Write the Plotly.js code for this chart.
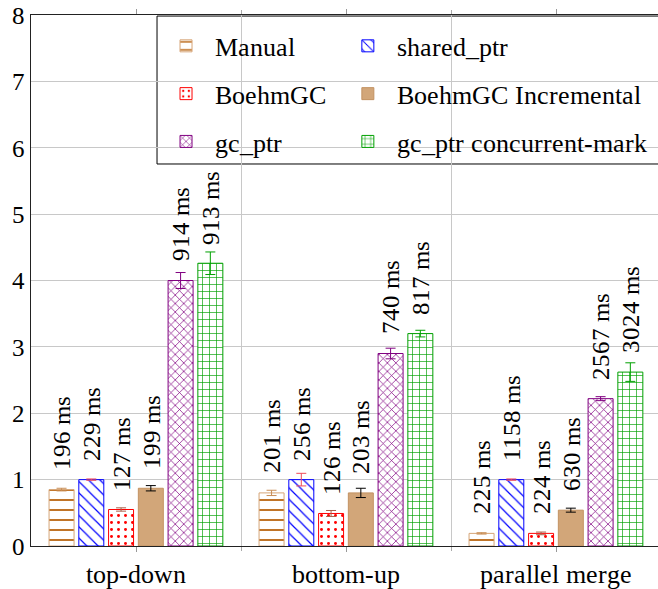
<!DOCTYPE html>
<html>
<head>
<meta charset="utf-8">
<script src="https://cdn.plot.ly/plotly-3.0.1.min.js"></script>
<style>
@font-face { font-family: 'SerifX'; src: local('Liberation Serif'), local('LiberationSerif'), local('LiberationSerif-Regular'), local('DejaVu Serif'), local('DejaVuSerif'); }
html,body{margin:0;padding:0;background:#fff;}#chart{width:658px;height:589px;}
</style>
</head>
<body>
<div id="chart"></div>
<script>
// ---- data ----
const categories = ['top-down', 'bottom-up', 'parallel merge'];
const seriesNames = ['Manual', 'shared_ptr', 'BoehmGC', 'BoehmGC Incremental', 'gc_ptr', 'gc_ptr concurrent-mark'];

const manual      = [0.85, 0.80, 0.19];
const manualErr   = [0.02, 0.04, 0.01];
const manualMs    = [196, 201, 225];

const sharedPtr    = [1.00, 1.00, 1.00];
const sharedPtrErr = [0.01, 0.095, 0.01];
const sharedPtrMs  = [229, 256, 1158];

const boehm      = [0.55, 0.49, 0.19];
const boehmErr   = [0.025, 0.045, 0.02];
const boehmMs    = [127, 126, 224];

const boehmInc    = [0.87, 0.80, 0.54];
const boehmIncErr = [0.04, 0.07, 0.03];
const boehmIncMs  = [199, 203, 630];

const gcPtr    = [4.00, 2.90, 2.22];
const gcPtrErr = [0.12, 0.08, 0.03];
const gcPtrMs  = [914, 740, 2567];

const gcPtrCm    = [4.26, 3.20, 2.62];
const gcPtrCmErr = [0.17, 0.05, 0.14];
const gcPtrCmMs  = [913, 817, 3024];

const yTicks = [0, 1, 2, 3, 4, 5, 6, 7, 8];

// ---- styling ----
const values = [manual, sharedPtr, boehm, boehmInc, gcPtr, gcPtrCm];
const errs   = [manualErr, sharedPtrErr, boehmErr, boehmIncErr, gcPtrErr, gcPtrCmErr];
const msVals = [manualMs, sharedPtrMs, boehmMs, boehmIncMs, gcPtrMs, gcPtrCmMs];
const legendOf = ['legend', 'legend2', 'legend', 'legend2', 'legend', 'legend2'];

const styles = [
  {fill:'white', line:'#d6a577', pattern:{shape:'-', fgcolor:'#c07428', bgcolor:'white', size:10, solidity:0.2}, err:'#c88d55'},
  {fill:'white', line:'#0000ff', pattern:{shape:'\\', fgcolor:'#0000ff', bgcolor:'white', size:8, solidity:0.15}, err:'#f04a5a'},
  {fill:'white', line:'#ff0000', pattern:{shape:'.', fgcolor:'#ff0000', bgcolor:'white', size:7, solidity:0.14}, err:'#a8604a'},
  {fill:'#d2a679', line:'#c39262', pattern:null, err:'#000000'},
  {fill:'white', line:'#800080', pattern:{shape:'x', fgcolor:'#800080', bgcolor:'white', size:6, solidity:0.22}, err:'#800080'},
  {fill:'white', line:'#00a000', pattern:{shape:'+', fgcolor:'#00a000', bgcolor:'white', size:7, solidity:0.18}, err:'#00a000'}
];

const barWidth = 0.119;
const barPitch = 0.1417;
const firstOffset = -0.414;
const xIdx = categories.map((c, i) => i);
const FONT = 'SerifX';

const traces = [];
const annotations = [];
values.forEach((vals, s) => {
  const st = styles[s];
  const off = firstOffset + s * barPitch;
  const marker = {color: st.fill, line: {color: st.line, width: 1}};
  if (st.pattern) marker.pattern = Object.assign({fillmode:'replace'}, st.pattern);
  traces.push({
    type: 'bar',
    name: seriesNames[s],
    legend: legendOf[s],
    legendgroup: 'g' + s,
    x: xIdx,
    y: vals,
    width: barWidth,
    offset: off,
    marker: marker,
    error_y: {type:'data', array: errs[s], visible:true, color: st.err, thickness:1, width:5},
    hoverinfo: 'skip'
  });
  vals.forEach((v, i) => {
    annotations.push({
      xref:'x', yref:'y', x: i + off + barWidth / 2, y: v,
      text: msVals[s][i] + ' ms',
      textangle: -90, showarrow:false,
      xanchor:'center', yanchor:'bottom', yshift: 17,
      font: {family: FONT, size: 25, color:'#000'}
    });
  });
});

const legendCommon = {
  orientation:'v', yanchor:'top', xanchor:'left',
  bgcolor:'rgba(0,0,0,0)', borderwidth:0,
  font:{family: FONT, size:26, color:'#000'},
  traceorder:'grouped', tracegroupgap: 11, itemwidth: 48
};

const layout = {
  width: 658, height: 589,
  margin: {l:31, r:0, t:15, b:43, pad:0},
  paper_bgcolor:'#fff', plot_bgcolor:'#fff',
  showlegend: true,
  barmode: 'overlay',
  font: {family: FONT, size: 25, color:'#000'},
  xaxis: {
    range: [-0.5, 2.4857],
    tickmode:'array', tickvals: xIdx, ticktext: categories,
    ticks:'outside', ticklen:5, tickcolor:'#999', tickwidth:1,
    showgrid:false, zeroline:false,
    showline:true, linecolor:'#222', linewidth:1, mirror:'ticks',
    tickfont:{family: FONT, size:26, color:'#000'},
    minor: {tickmode:'array', tickvals:[0.5, 1.5], showgrid:true, gridcolor:'#c8c8c8', gridwidth:1, ticks:'outside', ticklen:4, tickcolor:'#aaa'}
  },
  yaxis: {
    range:[0, 8], tickmode:'array', tickvals: yTicks, ticktext: yTicks.map(String),
    showgrid:true, gridcolor:'#c8c8c8', gridwidth:1, zeroline:false,
    showline:true, linecolor:'#222', linewidth:1, mirror:false,
    ticks:'', tickfont:{family: FONT, size:25, color:'#000'}
  },
  legend: Object.assign({}, legendCommon, {x: 0.201, y: 0.986}),
  legend2: Object.assign({}, legendCommon, {x: 0.491, y: 0.986}),
  shapes: [{
    type:'rect', xref:'paper', yref:'paper', x0:0.201, x1:1.02, y0:0.7194, y1:0.998,
    line:{color:'#000', width:1}, fillcolor:'#fff', layer:'between'
  }],
  annotations: annotations
};

Plotly.newPlot('chart', traces, layout, {displayModeBar:false, staticPlot:true});
</script>
</body>
</html>
